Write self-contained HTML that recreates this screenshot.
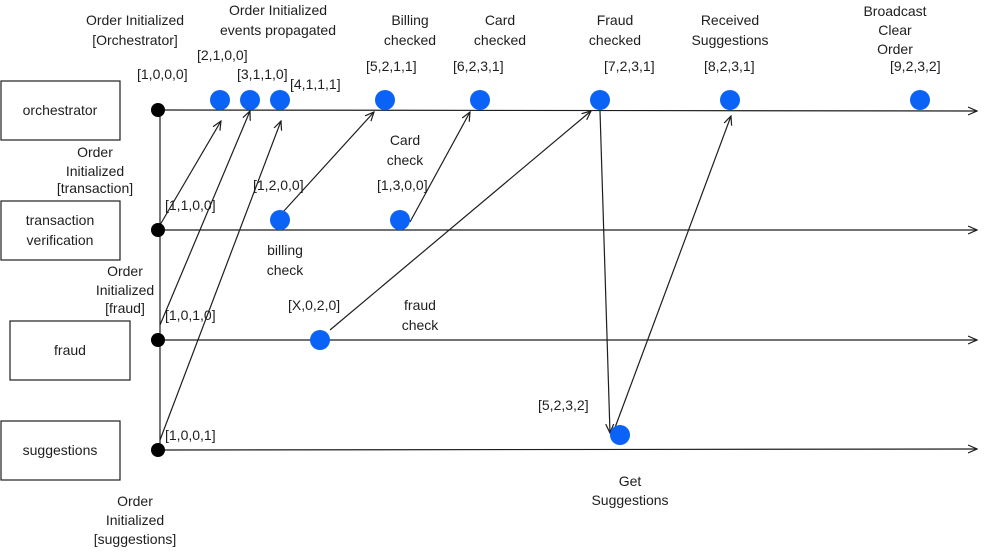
<!DOCTYPE html>
<html><head><style>
body{margin:0;background:#fff;}
svg text{font-family:"Liberation Sans",sans-serif;font-size:14px;fill:#1e1e1e;}
</style></head><body>
<svg width="989" height="549" viewBox="0 0 989 549" xmlns="http://www.w3.org/2000/svg">
<defs><marker id="a" markerWidth="10" markerHeight="10" refX="9" refY="5" orient="auto" markerUnits="userSpaceOnUse"><path d="M0,1 L9,5 L0,9" fill="none" stroke="#1e1e1e" stroke-width="1.2"/></marker></defs>
<g fill="none" stroke="#1e1e1e" stroke-width="1.2">
<rect x="1" y="81" width="119" height="59"/>
<rect x="1" y="201" width="119" height="59"/>
<rect x="10" y="321" width="120" height="59"/>
<rect x="1" y="421" width="119" height="59"/>
<line x1="160" y1="110" x2="977" y2="111" marker-end="url(#a)"/>
<line x1="160" y1="230" x2="977" y2="230" marker-end="url(#a)"/>
<line x1="160" y1="340" x2="977" y2="340" marker-end="url(#a)"/>
<line x1="160" y1="450" x2="977" y2="449" marker-end="url(#a)"/>
<line x1="160" y1="110" x2="160" y2="450"/>
<line x1="160" y1="225" x2="221" y2="121" marker-end="url(#a)"/>
<line x1="160" y1="325" x2="250" y2="111" marker-end="url(#a)"/>
<line x1="160" y1="440" x2="281" y2="121" marker-end="url(#a)"/>
<line x1="283" y1="212" x2="374" y2="112" marker-end="url(#a)"/>
<line x1="410" y1="222" x2="470" y2="112" marker-end="url(#a)"/>
<line x1="330" y1="330" x2="591" y2="111" marker-end="url(#a)"/>
<line x1="600" y1="111" x2="610" y2="433" marker-end="url(#a)"/>
<line x1="613" y1="433" x2="731" y2="116" marker-end="url(#a)"/>
</g>
<g fill="#000"><circle cx="158" cy="110" r="7"/><circle cx="158" cy="230" r="7"/><circle cx="158" cy="340" r="7"/><circle cx="158" cy="450" r="7"/></g>
<g fill="#0b62f6">
<circle cx="220" cy="100" r="10"/><circle cx="250" cy="100" r="10"/><circle cx="280" cy="100" r="10"/><circle cx="385" cy="100" r="10"/><circle cx="480" cy="100" r="10"/><circle cx="600" cy="100" r="10"/><circle cx="730" cy="100" r="10"/><circle cx="920" cy="100" r="10"/>
<circle cx="280" cy="220" r="10"/><circle cx="400" cy="220" r="10"/><circle cx="320" cy="340" r="10"/><circle cx="620" cy="435" r="10"/>
</g>
<g text-anchor="middle">
<text x="60" y="115">orchestrator</text>
<text x="60" y="225">transaction</text><text x="60" y="245">verification</text>
<text x="70" y="355">fraud</text>
<text x="60" y="455">suggestions</text>
<text x="135" y="25">Order Initialized</text><text x="135" y="45">[Orchestrator]</text>
<text x="278" y="15">Order Initialized</text><text x="278" y="35">events propagated</text>
<text x="410" y="25">Billing</text><text x="410" y="45">checked</text>
<text x="500" y="25">Card</text><text x="500" y="45">checked</text>
<text x="615" y="25">Fraud</text><text x="615" y="45">checked</text>
<text x="730" y="25">Received</text><text x="730" y="45">Suggestions</text>
<text x="895" y="16">Broadcast</text><text x="895" y="35">Clear</text><text x="895" y="54">Order</text>
<text x="95" y="157">Order</text><text x="95" y="176">Initialized</text><text x="95" y="193">[transaction]</text>
<text x="125" y="276">Order</text><text x="125" y="295">Initialized</text><text x="125" y="313">[fraud]</text>
<text x="135" y="506">Order</text><text x="135" y="525">Initialized</text><text x="135" y="544">[suggestions]</text>
<text x="405" y="145">Card</text><text x="405" y="165">check</text>
<text x="285" y="255">billing</text><text x="285" y="275">check</text>
<text x="420" y="310">fraud</text><text x="420" y="330">check</text>
<text x="630" y="486">Get</text><text x="630" y="505">Suggestions</text>
</g>
<g style="font-size:13px">
<text x="137" y="79">[1,0,0,0]</text>
<text x="197" y="60">[2,1,0,0]</text>
<text x="237" y="79">[3,1,1,0]</text>
<text x="290" y="89">[4,1,1,1]</text>
<text x="366" y="71">[5,2,1,1]</text>
<text x="453" y="71">[6,2,3,1]</text>
<text x="604" y="71">[7,2,3,1]</text>
<text x="704" y="71">[8,2,3,1]</text>
<text x="890" y="71">[9,2,3,2]</text>
<text x="165" y="210">[1,1,0,0]</text>
<text x="253" y="190">[1,2,0,0]</text>
<text x="377" y="190">[1,3,0,0]</text>
<text x="165" y="320">[1,0,1,0]</text>
<text x="288" y="310">[X,0,2,0]</text>
<text x="538" y="410">[5,2,3,2]</text>
<text x="165" y="440">[1,0,0,1]</text>
</g>
</svg>
</body></html>
